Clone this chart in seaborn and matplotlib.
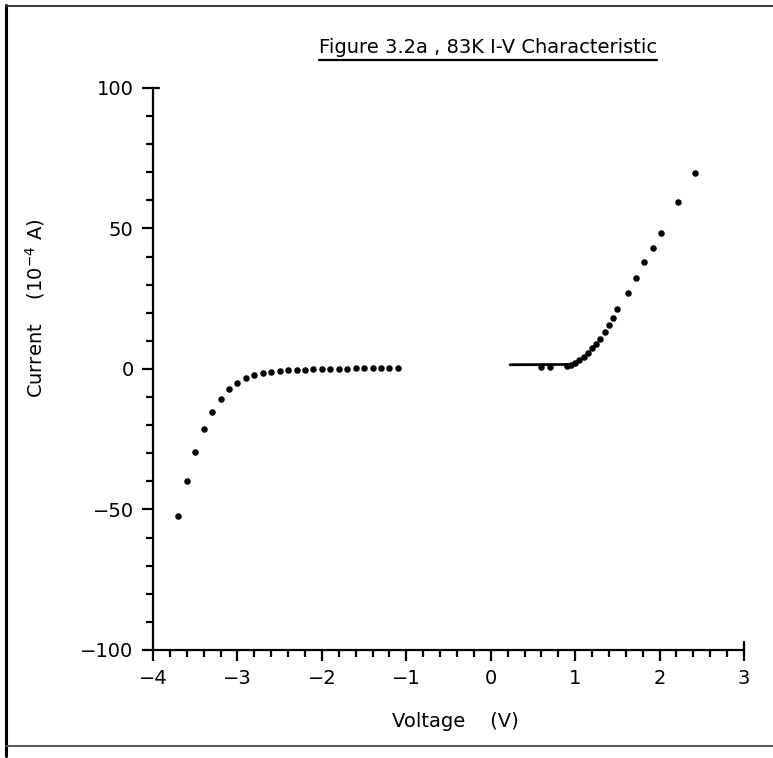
#!/usr/bin/env python3

"""
Figure 3.2a: 83K I-V characteristic, redrawn with seaborn.
"""

import matplotlib
matplotlib.use("Agg")
import matplotlib.pyplot as plt
import pandas as pd
import seaborn as sns
from matplotlib.lines import Line2D
from matplotlib.ticker import MultipleLocator

# Reverse bias branch (V, 1e-4 A)
neg_voltage = [-3.7, -3.6, -3.5, -3.4, -3.3, -3.2, -3.1, -3.0, -2.9, -2.8, -2.7, -2.6,
               -2.5, -2.4, -2.3, -2.2, -2.1, -2.0, -1.9, -1.8, -1.7, -1.6, -1.5, -1.4,
               -1.3, -1.2, -1.1]
neg_current = [-52.3, -39.8, -29.7, -21.2, -15.4, -10.6, -7.0, -4.9, -3.2, -2.1, -1.5, -1.0,
               -0.7, -0.5, -0.3, -0.2, -0.1, 0.0, 0.0, 0.1, 0.1, 0.2, 0.2, 0.3,
               0.3, 0.4, 0.4]

# Forward bias branch
pos_voltage = [0.6, 0.7, 0.9, 0.95, 1.0, 1.05, 1.1, 1.15, 1.2, 1.25, 1.3, 1.35, 1.4,
               1.45, 1.5, 1.62, 1.72, 1.82, 1.92, 2.02, 2.22, 2.42]
pos_current = [0.6, 0.6, 1.0, 1.5, 2.2, 3.1, 4.3, 5.8, 7.3, 8.9, 10.5, 13.0, 15.8,
               18.3, 21.2, 27.2, 32.5, 38.0, 43.2, 48.5, 59.5, 69.7]

# Flat line drawn through the low forward bias region
fit_voltage = [0.23, 0.95]
fit_current = [1.5, 1.6]

x_ticks = [-4, -3, -2, -1, 0, 1, 2, 3]
x_tick_labels = ["\u22124", "\u22123", "\u22122", "\u22121", "0", "1", "2", "3"]
y_ticks = [-100, -50, 0, 50, 100]
y_tick_labels = ["\u2212100", "\u221250", "0", "50", "100"]

points = pd.DataFrame({
    "voltage": neg_voltage + pos_voltage,
    "current": neg_current + pos_current,
})
fit = pd.DataFrame({"voltage": fit_voltage, "current": fit_current})

sns.set_style("ticks")
plt.rcParams["font.family"] = ["DejaVu Sans"]
plt.rcParams["text.color"] = "black"
plt.rcParams["axes.labelcolor"] = "black"
plt.rcParams["xtick.color"] = "black"
plt.rcParams["ytick.color"] = "black"
plt.rcParams["axes.edgecolor"] = "black"

fig = plt.figure(figsize=(7.73, 7.58), dpi=100)
ax = fig.add_axes([0.198, 0.1425, 0.7645, 0.7415])

sns.scatterplot(data=points, x="voltage", y="current", ax=ax, color="black",
                s=22, linewidth=0, legend=False)
sns.lineplot(data=fit, x="voltage", y="current", ax=ax, color="black", linewidth=2.0)

ax.set_xticks(x_ticks, labels=x_tick_labels)
ax.set_yticks(y_ticks, labels=y_tick_labels)
ax.xaxis.set_minor_locator(MultipleLocator(0.2))
ax.yaxis.set_minor_locator(MultipleLocator(10))
ax.set_xlim(-4, 3)
ax.set_ylim(-100, 100)

for side in ["top", "right"]:
    ax.spines[side].set_visible(False)
for side in ["left", "bottom"]:
    ax.spines[side].set_linewidth(1.6)

ax.tick_params(axis="both", which="major", length=8, width=1.6, labelsize=14, pad=6)
ax.tick_params(axis="both", which="minor", length=5, width=1.6)

# little end hooks on the axis lines, as on the plotter output
ax.plot([3, 3], [-100, -97], color="black", linewidth=1.6, clip_on=False)
ax.plot([-4, -3.93], [100, 100], color="black", linewidth=1.6, clip_on=False)

ax.set_xlabel("Voltage    (V)", fontsize=14)
ax.set_ylabel("Current    (10$^{-4}$ A)", fontsize=14)
ax.xaxis.set_label_coords(0.511, -0.11)
ax.yaxis.set_label_coords(-0.18, 0.608)

title = fig.text(0.631, 0.937, "Figure 3.2a , 83K I-V Characteristic",
                 ha="center", va="center", fontsize=14)

# underline the title
fig.canvas.draw()
bb = title.get_window_extent().transformed(fig.transFigure.inverted())
fig.add_artist(Line2D([bb.x0, bb.x1], [bb.y0 - 0.004, bb.y0 - 0.004],
                      transform=fig.transFigure, color="black", linewidth=1.6))

# page border from the scanned sheet
fig.add_artist(Line2D([0.008, 0.008], [0.003, 0.993], transform=fig.transFigure,
                      color="black", linewidth=2.2))
fig.add_artist(Line2D([0.008, 1.0], [0.992, 0.992], transform=fig.transFigure,
                      color="#333333", linewidth=1.4))
fig.add_artist(Line2D([0.008, 1.0], [0.016, 0.016], transform=fig.transFigure,
                      color="#555555", linewidth=1.4))

fig.savefig("out.png", dpi=100)
